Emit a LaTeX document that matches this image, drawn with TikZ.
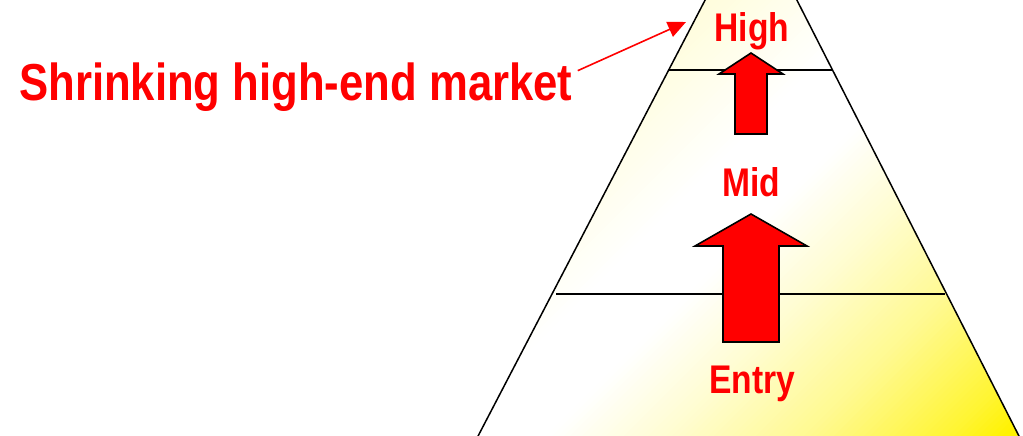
\documentclass[tikz,border=0pt]{standalone}
\usepackage{fontspec}
\newfontfamily\narrowsans[FakeStretch=0.84]{Liberation Sans}
\usetikzlibrary{arrows.meta}

\begin{document}
\begin{tikzpicture}[x=1pt,y=-1pt,
    level/.style={text=red,font=\narrowsans\bfseries\fontsize{40}{40}\selectfont,inner sep=0pt,anchor=base},
    claim/.style={text=red,font=\narrowsans\bfseries\fontsize{52}{52}\selectfont,inner sep=0pt,anchor=base west},
    blockarrow/.style={fill=red,draw=black,line width=1.6pt,line join=miter},
    pointer/.style={draw=red,line width=1.6pt,-{Triangle[length=18pt,width=16pt]}}]
  \useasboundingbox (0,0) rectangle (1023,436);
  \clip (0,0) rectangle (1023,436);
  % pyramid, diagonal gradient in bands along x+y
  \begin{scope}
    \clip (751.5,-89) -- (476,440) -- (1021,440) -- cycle;
    \foreach \s in {640,646,...,1462} {
      \pgfmathsetmacro\p{\s<880 ? min(14,14*(880-\s)/180) : (\s<980 ? 0 :
        (\s<1100 ? (\s-980)*0.15 : (\s<1240 ? 18+(\s-1100)*0.18 :
        (\s<1380 ? 43+(\s-1240)*0.26 : min(100,79+(\s-1380)*0.35)))))}
      \fill[yellow!\p!white] ({\s+100},-100) -- ({\s+108},-100) -- ({\s-492},500) -- ({\s-500},500) -- cycle;
    }
  \end{scope}
  \draw[line width=1.5pt] (476,440) -- (751.5,-89) -- (1021,440);
  \draw[line width=1.5pt] (669,70) -- (832,70);
  \draw[line width=1.5pt] (556,294) -- (945,294);
  % up arrows
  \draw[blockarrow] (751,53) -- (783,74) -- (767,74) -- (767,134)
      -- (735,134) -- (735,74) -- (719,74) -- cycle;
  \draw[blockarrow] (751,214) -- (807,246) -- (779,246) -- (779,342)
      -- (723,342) -- (723,246) -- (695,246) -- cycle;
  % levels
  \node[level] (high) at (752,42) {High};
  \node[level] (mid) at (751,196) {Mid};
  \node[level] (entry) at (752,393) {Entry};
  % note
  \node[claim] (shrink) at (19,100) {Shrinking high-end market};
  \coordinate (apexnote) at (686,22);
  \draw[pointer] ([xshift=5pt,yshift=16pt]shrink.east) -- (apexnote);
\end{tikzpicture}
\end{document}
